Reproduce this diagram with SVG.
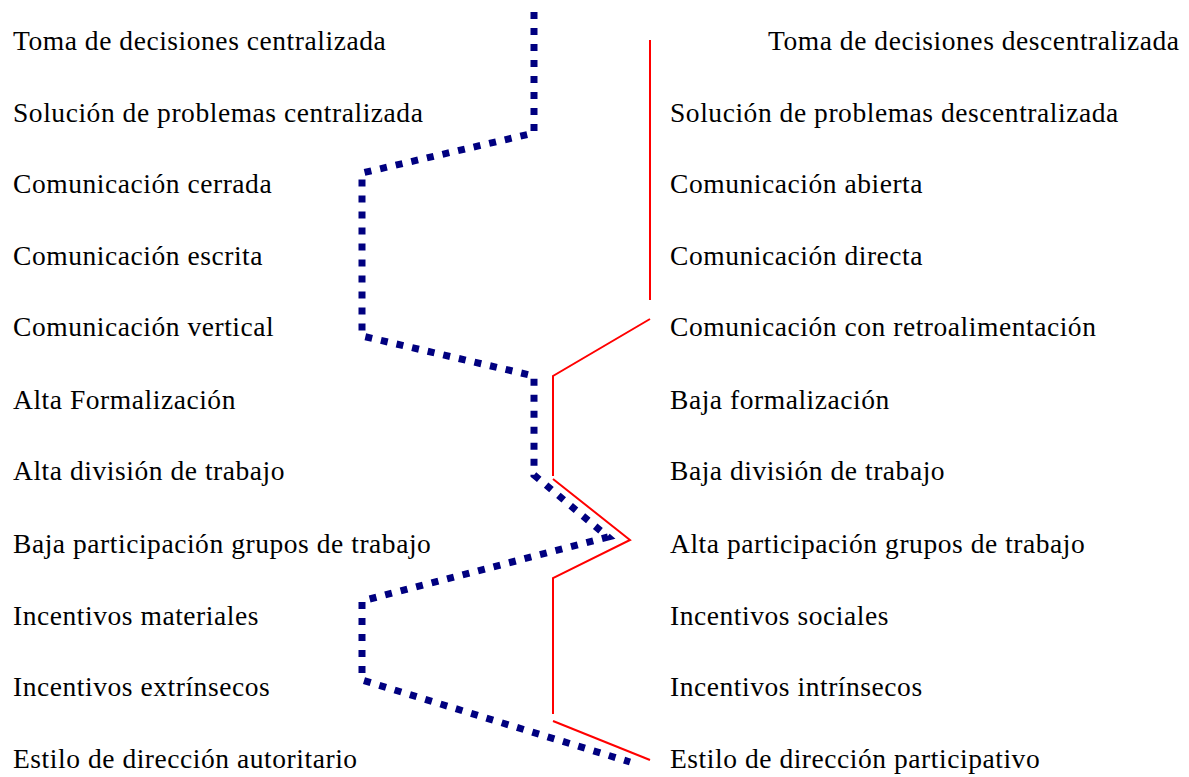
<svg xmlns="http://www.w3.org/2000/svg" width="1189" height="777" viewBox="0 0 1189 777">
<style>
text{font-family:"Liberation Serif","Times New Roman",serif;font-size:27.5px;letter-spacing:0.55px;fill:#000}
.blue{fill:none;stroke:#000080;stroke-width:7;stroke-dasharray:7 9}
.red{fill:none;stroke:#ff0000;stroke-width:2}
</style>
<rect width="1189" height="777" fill="#fff"/>
<g id="left">
<text x="13" y="50">Toma de decisiones centralizada</text>
<text x="13" y="122">Solución de problemas centralizada</text>
<text x="13" y="193">Comunicación cerrada</text>
<text x="13" y="265">Comunicación escrita</text>
<text x="13" y="336">Comunicación vertical</text>
<text x="13" y="409">Alta Formalización</text>
<text x="13" y="480">Alta división de trabajo</text>
<text x="13" y="553">Baja participación grupos de trabajo</text>
<text x="13" y="625">Incentivos materiales</text>
<text x="13" y="696">Incentivos extrínsecos</text>
<text x="13" y="768">Estilo de dirección autoritario</text>
</g>
<g id="right">
<text x="768" y="50">Toma de decisiones descentralizada</text>
<text x="670" y="122">Solución de problemas descentralizada</text>
<text x="670" y="193">Comunicación abierta</text>
<text x="670" y="265">Comunicación directa</text>
<text x="670" y="336">Comunicación con retroalimentación</text>
<text x="670" y="409">Baja formalización</text>
<text x="670" y="480">Baja división de trabajo</text>
<text x="670" y="553">Alta participación grupos de trabajo</text>
<text x="670" y="625">Incentivos sociales</text>
<text x="670" y="696">Incentivos intrínsecos</text>
<text x="670" y="768">Estilo de dirección participativo</text>
</g>
<g id="connectors">
<polyline class="blue" points="534,12 534,133 362,173 362,336 534,376 534,475 608,537 362,601 362,680 630,762"/>
<polyline class="red" points="650,40 650,300"/>
<polyline class="red" points="650,319 553,376 553,476"/>
<polyline class="red" points="553,479 630,540 553,578 553,714"/>
<polyline class="red" points="553,721 650,760"/>
</g>
</svg>
